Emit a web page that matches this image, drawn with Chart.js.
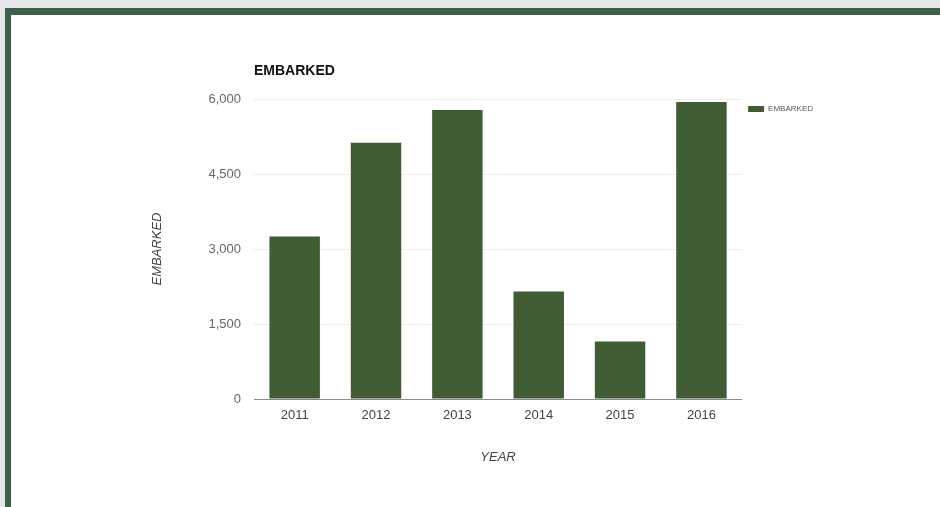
<!DOCTYPE html>
<html>
<head>
<meta charset="utf-8">
<script src="https://cdn.jsdelivr.net/npm/chart.js@4/dist/chart.umd.min.js"></script>
<style>
  body { margin: 0; background: #e4e5e7; width: 940px; height: 507px; overflow: hidden; position: relative; font-family: "Liberation Sans", Arial, sans-serif; }
  #frame { position: absolute; left: 5px; top: 8px; width: 960px; height: 520px; background: #fff;
           border-top: 7px solid #3d5e48; border-left: 6px solid #3d5e48; }
  #myChart { position: absolute; left: 0; top: 0; }
</style>
</head>
<body>
<div id="frame"></div>
<canvas id="myChart" width="940" height="507"></canvas>
<script>
const years = ['2011', '2012', '2013', '2014', '2015', '2016'];
const embarked = [3250, 5125, 5780, 2150, 1150, 5940];
const yTicks = [0, 1500, 3000, 4500, 6000];
const chartTitle = 'EMBARKED';
const xTitle = 'YEAR';
const yTitle = 'EMBARKED';

// title sits on the left edge of the plot, not of the canvas
const plotTitle = {
  id: 'plotTitle',
  afterDraw(chart) {
    const ctx = chart.ctx;
    ctx.save();
    ctx.font = 'bold 14px "Liberation Sans", Arial, sans-serif';
    ctx.fillStyle = '#111';
    ctx.textBaseline = 'middle';
    ctx.fillText(chartTitle, chart.chartArea.left, 71);
    ctx.restore();
  }
};

const ctx = document.getElementById('myChart').getContext('2d');
const myChart = new Chart(ctx, {
  type: 'bar',
  data: {
    labels: years,
    datasets: [{
      label: 'EMBARKED',
      data: embarked,
      backgroundColor: '#3f5c35',
      borderWidth: 0,
      barPercentage: 0.62,
      categoryPercentage: 1
    }]
  },
  options: {
    responsive: false,
    animation: false,
    layout: { padding: { left: 148, top: 99, bottom: 42, right: 117 } },
    plugins: {
      title: { display: false },
      tooltip: { enabled: false },
      legend: {
        position: 'right',
        align: 'start',
        labels: {
          boxWidth: 16,
          boxHeight: 6,
          padding: 6,
          color: '#555',
          font: { size: 8, family: '"Liberation Sans", Arial, sans-serif' }
        }
      }
    },
    scales: {
      x: {
        grid: { display: false },
        border: { display: false },
        ticks: { color: '#444', padding: 1, font: { size: 13, family: '"Liberation Sans", Arial, sans-serif' } },
        title: { display: true, text: xTitle, color: '#444', padding: { top: 0, bottom: 0 },
                 font: { size: 13, style: 'italic', family: '"Liberation Sans", Arial, sans-serif' } },
        afterFit(scale) { scale.height = 66; }
      },
      y: {
        min: 0,
        max: yTicks[yTicks.length - 1],
        afterBuildTicks(scale) { scale.ticks = yTicks.map(v => ({ value: v })); },
        grid: {
          drawTicks: false,
          color: c => c.tick && c.tick.value === 0 ? '#8a8a8a' : '#ececec'
        },
        border: { display: false },
        ticks: { color: '#666', padding: 13, font: { size: 13, family: '"Liberation Sans", Arial, sans-serif' } },
        title: { display: true, text: yTitle, color: '#444', padding: { top: 2, bottom: 0 },
                 font: { size: 13, style: 'italic', family: '"Liberation Sans", Arial, sans-serif' } },
        afterFit(scale) { scale.width = 106; }
      }
    }
  },
  plugins: [plotTitle]
});
</script>
</body>
</html>
